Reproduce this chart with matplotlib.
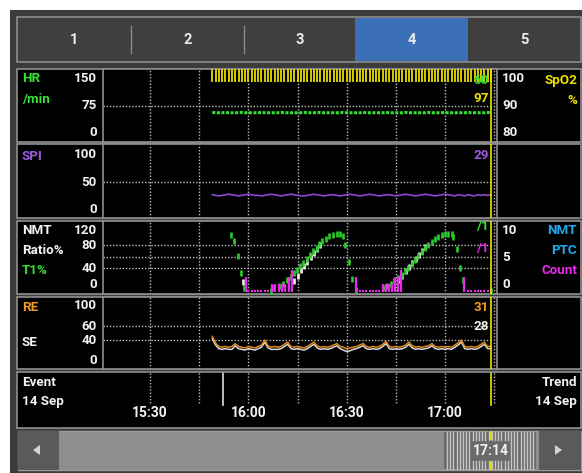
import numpy as np
import matplotlib
matplotlib.use("Agg")
import matplotlib.pyplot as plt
from matplotlib.patches import Rectangle, Polygon
from matplotlib.lines import Line2D

plt.rcParams['font.family'] = ['Roboto', 'DejaVu Sans']
plt.rcParams['font.weight'] = 'bold'

# trend data, 14 Sep; time = minutes after 15:00, one sample per minute from 15:49
trend_start = 49
hr = [56, 55, 55, 55, 56, 55, 55, 55, 55, 56,
      55, 55, 55, 55, 55, 56, 55, 55, 55, 55,
      55, 56, 55, 55, 55, 55, 55, 55, 56, 55,
      55, 55, 55, 56, 55, 55, 55, 55, 55, 55,
      56, 55, 55, 55, 55, 55, 56, 55, 55, 55,
      55, 55, 55, 56, 55, 55, 55, 55, 55, 56,
      55, 55, 55, 55, 55, 55, 56, 55, 55, 55,
      55, 56, 55, 55, 55, 55, 55, 55, 56, 55,
      55, 55, 55, 55, 56, 55]
spo2 = [99, 99, 99, 99, 99, 99, 99, 99, 99, 99,
        99, 99, 99, 99, 99, 99, 99, 99, 99, 99,
        99, 99, 99, 99, 99, 99, 99, 99, 99, 99,
        99, 99, 99, 99, 99, 99, 99, 99, 99, 99,
        99, 99, 99, 99, 99, 99, 99, 99, 99, 99,
        99, 99, 99, 99, 99, 99, 99, 99, 99, 99,
        99, 99, 99, 99, 99, 99, 99, 99, 99, 99,
        99, 99, 99, 99, 99, 99, 99, 99, 99, 99,
        99, 99, 99, 99, 99, 99]
spi = [26, 25, 24, 25, 26, 27, 26, 25, 24, 25,
       26, 27, 26, 25, 25, 24, 25, 26, 27, 26,
       25, 24, 25, 26, 27, 26, 25, 24, 24, 25,
       26, 27, 26, 25, 24, 25, 26, 26, 25, 24,
       25, 26, 27, 26, 25, 24, 25, 26, 27, 26,
       25, 24, 25, 26, 26, 25, 24, 25, 26, 27,
       26, 25, 24, 25, 26, 27, 26, 25, 24, 25,
       26, 27, 26, 25, 24, 26, 25, 24, 26, 25,
       24, 26, 25, 26, 25, 26]
re = [45, 36, 31, 30, 31, 30, 31, 35, 31, 30,
      29, 31, 30, 29, 31, 33, 40, 32, 30, 31,
      30, 31, 34, 37, 31, 30, 31, 30, 29, 31,
      34, 37, 32, 30, 31, 30, 31, 33, 35, 31,
      30, 28, 29, 30, 31, 33, 35, 31, 30, 31,
      30, 31, 34, 38, 31, 30, 31, 30, 31, 33,
      37, 32, 30, 31, 30, 31, 32, 35, 31, 30,
      31, 30, 31, 30, 33, 36, 40, 31, 30, 31,
      30, 31, 34, 37, 31, 31]
se = [42, 33, 28, 27, 28, 27, 27, 32, 28, 27,
      26, 28, 27, 26, 28, 30, 37, 29, 27, 27,
      27, 28, 31, 34, 28, 27, 28, 27, 26, 28,
      31, 34, 29, 27, 28, 27, 28, 30, 32, 28,
      26, 24, 25, 27, 28, 30, 32, 28, 27, 28,
      27, 28, 31, 35, 28, 27, 28, 27, 28, 30,
      34, 29, 27, 28, 27, 28, 29, 32, 28, 27,
      28, 27, 28, 27, 30, 33, 37, 28, 27, 28,
      27, 28, 31, 34, 28, 28]

# NMT measurements
t1_time = [54.7, 55.6, 56.9, 57.8, 58.7, 66.8, 67.8, 69.4, 70.7, 71.9,
           72.9, 73.9, 74.8, 75.8, 76.8, 77.8, 78.8, 79.8, 80.9, 81.6,
           82.6, 83.7, 84.7, 85.7, 86.9, 88.0, 88.8, 89.5, 90.7, 91.7,
           92.7, 101.0, 102.2, 103.4, 104.5, 105.7, 106.8, 107.8, 108.8, 109.8,
           110.8, 111.8, 112.9, 113.9, 114.9, 115.9, 116.9, 117.9, 119.0, 120.0,
           121.0, 122.0, 122.5, 123.7, 124.5, 125.6, 134.0]
t1_pct = [98, 88, 61, 31, 5, 0, 5, 9, 13, 19,
          24, 31, 37, 44, 50, 57, 63, 70, 76, 82,
          88, 92, 96, 99, 100, 100, 96, 81, 51, 21,
          2, 5, 9, 13, 18, 22, 28, 35, 41, 47,
          54, 61, 69, 75, 81, 86, 91, 95, 98, 100,
          100, 100, 94, 73, 40, 19, 0]
ratio_time = [58.5, 74.0, 75.0, 76.0, 77.0, 78.0, 79.0, 80.0, 81.0, 82.0,
              106.0, 107.0, 108.0, 109.0, 110.0, 111.0, 112.0, 113.0, 114.0]
ratio_pct = [15, 17, 27, 36, 44, 51, 59, 66, 73, 80,
             19, 27, 35, 42, 50, 57, 64, 71, 78]
ptc_time = [59.2, 60, 61, 62, 63, 64, 65, 66, 67.3, 68.1, 69.3, 70.3, 71.3, 72.3, 73.2,
            92.9, 94, 95, 96, 97, 98, 99, 100, 101, 101.9, 102.8, 103.8, 104.7, 105.7, 106.7,
            125.8, 127, 128, 129, 130, 131, 132, 133, 134]
ptc_count = [2, 0, 0, 0, 0, 0, 0, 0, 1, 1, 1, 1, 1, 2, 3,
             2, 0, 0, 0, 0, 0, 0, 0, 1, 1, 1, 1, 2, 2, 3,
             2, 0, 0, 0, 0, 0, 0, 0, 0]

event_time = 52.2
cursor_time = 134
grid_times = [30, 45, 60, 75, 90, 105, 120, 135]
time_ticks = [30, 60, 90, 120]
time_labels = ['15:30', '16:00', '16:30', '17:00']
tabs = ['1', '2', '3', '4', '5']
active_tab = 3

trend_t = trend_start + np.arange(len(hr))

GREEN = '#33e033'
YELLOW = '#ece200'
PURPLE = '#9a5ae0'
ORANGE = '#f09a22'
CYAN = '#22a8ec'
MAGENTA = '#e82ae8'
WHITE = '#f2f2f2'
GRID = '#bdbdbd'
EDGE = '#8e8e8e'
DOTS = (0, (1, 1.3))

W, H = 582, 473
fig = plt.figure(figsize=(W / 100, H / 100), dpi=100)
fig.patch.set_facecolor('white')


def fbox(l, t, r, b):
    return [l / W, 1 - b / H, (r - l) / W, (b - t) / H]


def rect(l, t, r, b, fc, ec='none', lw=0, z=-5):
    fig.add_artist(Rectangle((l / W, 1 - b / H), (r - l) / W, (b - t) / H,
                             transform=fig.transFigure, fc=fc, ec=ec, lw=lw, zorder=z))


def vline(x, t, b, color, lw=1):
    fig.add_artist(Line2D([x / W, x / W], [1 - t / H, 1 - b / H], transform=fig.transFigure,
                          color=color, lw=lw, zorder=-3))


def label(x, y, s, color=WHITE, ha='left', size=9.6):
    fig.text(x / W, 1 - y / H, s, color=color, ha=ha, va='center', fontsize=size, fontweight='bold')


def ylim_px(top, bot, v1, y1, v2, y2):
    s = (y2 - y1) / (v1 - v2)
    return v2 - (bot - y2) / s, v1 + (y1 - top) / s


PPM = 3.278
def t_of(px):
    return 30 + (px - 150) / PPM


# frame and tab bar
rect(10, 10, 582, 473, '#3b3b3b', z=-10)
rect(16.7, 17.3, 581, 61.7, '#3f3f3f', ec='#8c8c8c', lw=1.2)
tab_edges = [16.7, 130.7, 243.9, 355.2, 467.7, 581]
rect(tab_edges[active_tab], 18, tab_edges[active_tab + 1], 61, '#3b70b7', z=-4)
for xe in tab_edges[1:3]:
    vline(xe, 26, 52.7, '#8a8a8a')
for i, name in enumerate(tabs):
    label((tab_edges[i] + tab_edges[i + 1]) / 2, 40, name, color='#ececec', ha='center', size=10.5)

# trend panels
L, R = 102.5, 496.5
panels = [(69.3, 142.3), (144.3, 217.7), (221, 294), (296.7, 369)]
axes = []
for top, bot in panels:
    rect(17.3, top, 580.5, bot, 'black', ec=EDGE, lw=1.2, z=-4)
    ax = fig.add_axes(fbox(L, top, R, bot))
    ax.set_facecolor('black')
    for sp in ax.spines.values():
        sp.set_color(EDGE)
        sp.set_linewidth(1.2)
    ax.set_xticks([])
    ax.set_yticks([])
    ax.set_xlim(t_of(L), t_of(R))
    axes.append(ax)

ax_hr, ax_spi, ax_nmt, ax_re = axes
ax_hr.set_ylim(*ylim_px(69.3, 142.3, 150, 79, 0, 132.3))
ax_spi.set_ylim(*ylim_px(144.3, 217.7, 100, 154.3, 0, 209))
ax_nmt.set_ylim(*ylim_px(221, 294, 100, 234, 0, 291))
ax_re.set_ylim(*ylim_px(296.7, 369, 60, 325.6, 40, 340))

hgrid = [[75], [50], [80, 60, 40], [60, 40]]
for ax, hg in zip(axes, hgrid):
    for g in grid_times:
        ax.axvline(g, color=GRID, lw=1, ls=DOTS, zorder=1)
    for v in hg:
        ax.hlines(v, t_of(L), cursor_time, color=GRID, lw=1, ls=DOTS, zorder=1)

# HR / SpO2
ax_hr.plot(trend_t, hr, color=GREEN, lw=2.2, ls=(0, (1, 0.5)), zorder=3)
ax_sp = ax_hr.twinx()
ax_sp.set_ylim(*ylim_px(69.3, 142.3, 100, 79, 80, 132.3))
ax_sp.axis('off')
ax_sp.vlines(trend_t, spo2, ax_sp.get_ylim()[1], color='#d6cc00', lw=1.4)

# SPI
ax_spi.plot(trend_t, spi, color='#8a48d0', lw=1.2, zorder=3)

# NMT
ax_nmt.plot(ratio_time, ratio_pct, ls='none', marker='|', ms=4, mew=1.9, color=WHITE, zorder=3)
ax_nmt.plot(t1_time, t1_pct, ls='none', marker='|', ms=4, mew=1.9, color='#2ccc2c', zorder=4)
ax_ptc = ax_nmt.twinx()
ax_ptc.set_ylim(*ylim_px(221, 294, 10, 222.6, 0, 291))
ax_ptc.axis('off')
pt = np.array(ptc_time)
pc = np.array(ptc_count)
ax_ptc.vlines(pt[pc > 0], 0, pc[pc > 0], color=MAGENTA, lw=1.6)
ax_ptc.plot(pt, np.zeros(len(pt)), ls='none', marker='_', ms=2.0, mew=1.5, color=MAGENTA)

# RE / SE
ax_re.plot(trend_t, se, color='#d8d8d8', lw=1.1, zorder=3)
ax_re.plot(trend_t, re, color='#e08a1a', lw=1.1, zorder=4)

for ax in [ax_sp, ax_spi, ax_ptc, ax_re]:
    ax.axvline(cursor_time, color=YELLOW, lw=1.2, zorder=6)

# event / time axis panel
ax_ev = fig.add_axes(fbox(17.3, 372, 580.5, 428.3))
ax_ev.set_facecolor('black')
for sp in ax_ev.spines.values():
    sp.set_color(EDGE)
    sp.set_linewidth(1.2)
ax_ev.set_xticks([])
ax_ev.set_yticks([])
ax_ev.set_xlim(t_of(17.3), t_of(580.5))
ax_ev.set_ylim(0, 1)
for g in grid_times:
    ax_ev.axvline(g, ymin=0.45, color=GRID, lw=1, ls=DOTS)
ax_ev.axvline(event_time, ymin=0.41, color='#e0e0e0', lw=1.2)
ax_ev.axvline(cursor_time, ymin=0.41, color=YELLOW, lw=1.2)
for tt, tl in zip(time_ticks, time_labels):
    ax_ev.text(tt, 0.27, tl, transform=ax_ev.get_xaxis_transform(), ha='center', va='center',
               color=WHITE, fontsize=10, fontweight='bold')

# panel captions and scales
label(22, 79, 'HR', GREEN)
label(22, 100, '/min', GREEN)
label(22, 156, 'SPI', PURPLE)
label(22, 230, 'NMT')
label(22, 250, 'Ratio%')
label(22, 270, 'T1%', GREEN)
label(22, 307, 'RE', ORANGE)
label(22, 343, 'SE')
label(22, 382.7, 'Event')
label(22, 401, '14 Sep')
label(577, 382.7, 'Trend', ha='right')
label(577, 401, '14 Sep', ha='right')

left_scales = [('150', 79), ('75', 105.7), ('0', 132.3),
               ('100', 154.3), ('50', 182.3), ('0', 209),
               ('120', 230), ('80', 245.7), ('40', 269), ('0', 284),
               ('100', 305.7), ('60', 326), ('40', 340), ('0', 360)]
for s, y in left_scales:
    label(97, y, s, ha='right')
right_scales = [('100', 78.3), ('90', 105.7), ('80', 132.7), ('10', 230), ('5', 257.3), ('0', 284)]
for s, y in right_scales:
    label(502, y, s)
label(577, 80.7, 'SpO2', YELLOW, ha='right')
label(577, 100, '%', YELLOW, ha='right')
label(577, 230, 'NMT', CYAN, ha='right')
label(577, 250, 'PTC', CYAN, ha='right')
label(577, 270, 'Count', MAGENTA, ha='right')

current = [('60', 80, GREEN), ('97', 98.3, YELLOW), ('29', 155.7, PURPLE), ('/1', 226.7, GREEN),
           ('/1', 248, MAGENTA), ('31', 307.7, ORANGE), ('28', 326, WHITE)]
for s, y, c in current:
    label(489, y, s, c, ha='right')

# scroll bar
rect(17.8, 430.7, 580.5, 470, '#8e8e8e', ec='#9c9c9c', lw=1)
rect(17.8, 430.7, 59.4, 470, '#5a5a5a', z=-4)
rect(539, 430.7, 580.5, 470, '#5a5a5a', z=-4)
rect(444.3, 431.5, 536.4, 469.3, '#6a6a6a', z=-4)
for xs in np.arange(447, 535, 3.2):
    if 471 < xs < 509:
        vline(xs, 432, 440, '#c6c6c6')
        vline(xs, 461, 469, '#c6c6c6')
    else:
        vline(xs, 432, 469, '#c6c6c6')
vline(490.7, 432, 439, YELLOW, lw=1.3)
vline(490.7, 462, 469, YELLOW, lw=1.3)
label(490.7, 450.5, '17:14', size=10, ha='center')
for pts in [[(33, 450), (40, 445), (40, 455)], [(562, 450), (555, 445), (555, 455)]]:
    fig.add_artist(Polygon([(x / W, 1 - y / H) for x, y in pts], closed=True,
                           transform=fig.transFigure, fc='#d4d4d4', ec='none', zorder=2))

fig.savefig('out.png', dpi=100, facecolor=fig.get_facecolor())
